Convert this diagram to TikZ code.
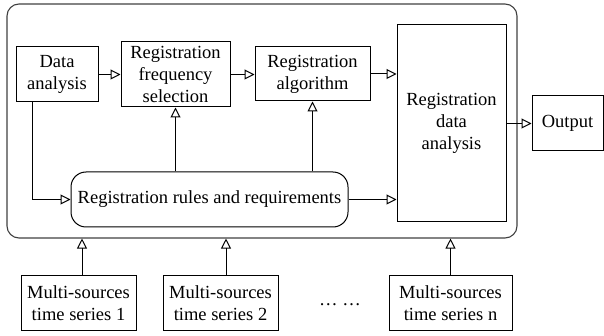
\documentclass[tikz,border=0pt]{standalone}
\usepackage{fontspec}
\setmainfont{Liberation Serif}
\usetikzlibrary{arrows.meta}
\begin{document}
\begin{tikzpicture}[x=1pt,y=-1pt,
  box/.style={draw, line width=1pt, inner sep=0pt, align=center, font=\fontsize{18.5}{22}\selectfont},
  arr/.style={line width=1pt, -{Triangle[open,length=10pt,width=10pt]}}]
\useasboundingbox (0,0) rectangle (604,336);
\node[draw, line width=1.1pt, draw=black!75, rounded corners=12pt, minimum width=510pt, minimum height=234pt] (outer) at (262,121) {};
\node[box, minimum width=82pt, minimum height=55pt] (data) at (57,74.5) {Data\\analysis};
\node[box, minimum width=109pt, minimum height=65pt] (freq) at (175.5,74.5) {Registration\\frequency\\selection};
\node[box, minimum width=115pt, minimum height=54pt] (alg) at (312.5,74) {Registration\\algorithm};
\node[box, minimum width=109pt, minimum height=197pt] (rda) at (451.5,123) {Registration\\data\\analysis};
\node[box, minimum width=71pt, minimum height=55pt] (out) at (567.5,123.5) {Output};
\node[box, rounded corners=15pt, minimum width=277pt, minimum height=55pt] (rules) at (209.5,199.5) {Registration rules and requirements};
\node[box, minimum width=115pt, minimum height=55pt] (s1) at (78.5,303) {Multi-sources\\time series 1};
\node[box, minimum width=115pt, minimum height=55pt] (s2) at (220.5,303) {Multi-sources\\time series 2};
\node[box, minimum width=123pt, minimum height=55pt] (sn) at (450.5,303) {Multi-sources\\time series n};
\node[font=\fontsize{18.5}{22}\selectfont] (dots) at (340,305) {\dots\ \dots};
\draw[arr] (data.east) -- (data.east -| freq.west);
\draw[arr] (freq.east) -- (freq.east -| alg.west);
\draw[arr] (alg.east) -- (alg.east -| rda.west);
\draw[arr] (rda.east |- out.west) -- (out.west);
\draw[arr] (rules.east) -- (rules.east -| rda.west);
\draw[arr] (rules.north -| freq.south) -- (freq.south);
\draw[arr] (rules.north -| alg.south) -- (alg.south);
\draw[arr] ([xshift=-25pt]data.south) |- (rules.west);
\draw[arr] ([xshift=3.5pt]s1.north) -- ([xshift=3.5pt]s1.north |- outer.south);
\draw[arr] ([xshift=5.5pt]s2.north) -- ([xshift=5.5pt]s2.north |- outer.south);
\draw[arr] (sn.north) -- (sn.north |- outer.south);
\end{tikzpicture}
\end{document}
